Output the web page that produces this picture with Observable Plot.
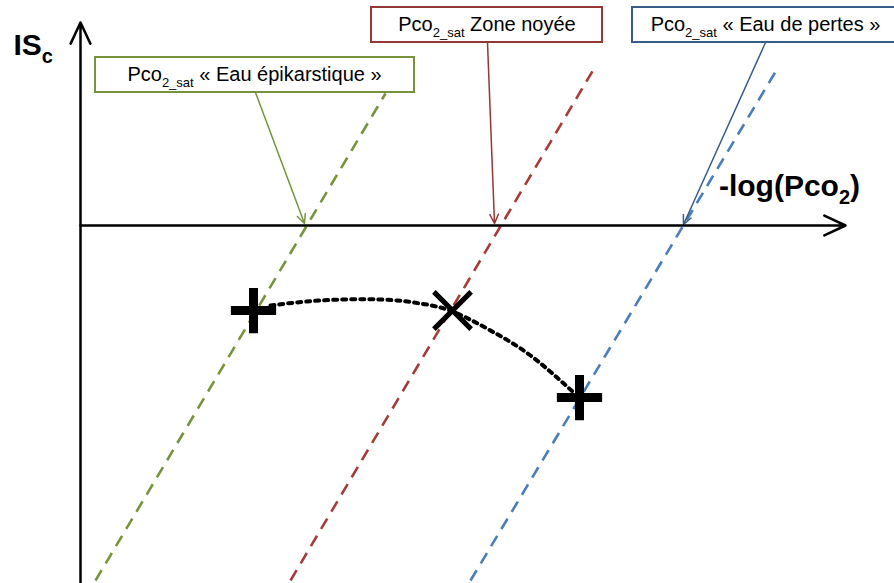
<!DOCTYPE html>
<html>
<head>
<meta charset="utf-8">
<script src="https://cdn.jsdelivr.net/npm/d3@7"></script>
<script src="https://cdn.jsdelivr.net/npm/@observablehq/plot@0.6"></script>
<style>
  html, body { margin: 0; padding: 0; background: #fff; overflow: hidden; }
</style>
</head>
<body>
<div id="chart"></div>
<script>
// ---- Data (arbitrary units: x = -log(Pco2), y = ISc) ----
const seriesNames = ["Eau épikarstique", "Zone noyée", "Eau de pertes"];
const seriesColors = ["#77933c", "#a63c3a", "#4a7ebb"];
const boxColors = ["#77933c", "#953735", "#385d8a"];

// Saturation lines (dashed) end points
const satX1 = [0.15, 2.10, 3.90];
const satY1 = [-3.55, -3.55, -3.55];
const satX2 = [3.05, 5.13, 6.97];
const satY2 = [1.32, 1.56, 1.57];

// Label boxes
const boxX1 = [0.15, 2.91, 5.52];
const boxX2 = [3.34, 5.22, 8.18];
const boxY1 = [1.33, 1.83, 1.83];
const boxY2 = [1.68, 2.18, 2.18];
const labelX = [1.74, 4.065, 6.85];
const labelY = [1.505, 2.005, 2.005];
const labelPre = ["Pco", "Pco", "Pco"];
const labelSub = ["2_sat", "2_sat", "2_sat"];
const labelPost = [" « Eau épikarstique »", " Zone noyée", " « Eau de pertes »"];

// Annotation arrows (box -> x-axis crossing)
const annX1 = [1.75, 4.07, 6.85];
const annY1 = [1.33, 1.83, 1.83];
const annX2 = [2.24, 4.14, 6.03];
const annY2 = [0.02, 0.02, 0.01];

// Axes
const axisX1 = [0, 0];
const axisY1 = [0, -3.57];
const axisX2 = [7.65, 0];
const axisY2 = [0, 2.03];

// Sample points
const pointX = [1.73, 3.72, 4.99];
const pointY = [-0.85, -0.85, -1.72];
const pointSymbol = ["plus", "times", "plus"];

// Evolution path (dotted)
const pathX = [1.90, 2.40, 3.00, 3.40, 3.72, 4.10, 4.50, 4.92];
const pathY = [-0.80, -0.75, -0.74, -0.78, -0.86, -1.05, -1.30, -1.66];

// Axis titles
const yTitle = {x: -0.67, y: 1.80, pre: "IS", sub: "c", post: ""};
const xTitle = {x: 7.09, y: 0.39, pre: "-log(Pco", sub: "2", post: ")"};

// ---- Tables built from arrays ----
const sat = seriesNames.map((n, i) => ({n, c: seriesColors[i], x1: satX1[i], y1: satY1[i], x2: satX2[i], y2: satY2[i]}));
const boxes = seriesNames.map((n, i) => ({n, c: boxColors[i], x1: boxX1[i], x2: boxX2[i], y1: boxY1[i], y2: boxY2[i],
  lx: labelX[i], ly: labelY[i], pre: labelPre[i], sub: labelSub[i], post: labelPost[i]}));
const ann = seriesNames.map((n, i) => ({n, c: boxColors[i], x1: annX1[i], y1: annY1[i], x2: annX2[i], y2: annY2[i]}));
const axes = axisX1.map((_, i) => ({x1: axisX1[i], y1: axisY1[i], x2: axisX2[i], y2: axisY2[i]}));
const pts = pointX.map((x, i) => ({x, y: pointY[i], s: pointSymbol[i]}));
const path = pathX.map((x, i) => ({x, y: pathY[i]}));
const richLabels = [...boxes.map(b => ({pre: b.pre, sub: b.sub, post: b.post, size: 20})),
                    {...yTitle, size: 30}, {...xTitle, size: 30}];

const plot = Plot.plot({
  width: 894,
  height: 583,
  margin: 0,
  x: {domain: [-0.8, 8.14], axis: null},
  y: {domain: [-3.58, 2.25], axis: null},
  style: {fontFamily: "'Liberation Sans', Arial, sans-serif", background: "#fff"},
  marks: [
    Plot.link(sat, {x1: "x1", y1: "y1", x2: "x2", y2: "y2", stroke: d => d.c, strokeWidth: 2.6, strokeDasharray: "12,8"}),
    Plot.arrow(ann, {x1: "x1", y1: "y1", x2: "x2", y2: "y2", stroke: d => d.c, strokeWidth: 1.5, headLength: 10, headAngle: 50}),
    Plot.rect(boxes, {x1: "x1", x2: "x2", y1: "y1", y2: "y2", fill: "#fff", stroke: d => d.c, strokeWidth: 2}),
    Plot.text(boxes, {x: "lx", y: "ly", text: d => d.pre + d.sub + d.post, fontSize: 20, fill: "#000"}),
    Plot.arrow(axes, {x1: "x1", y1: "y1", x2: "x2", y2: "y2", stroke: "#000", strokeWidth: 2.5, headLength: 14, headAngle: 50}),
    Plot.text([yTitle], {x: "x", y: "y", text: d => d.pre + d.sub + d.post, textAnchor: "start", fontSize: 30, fontWeight: "bold", fill: "#000"}),
    Plot.text([xTitle], {x: "x", y: "y", text: d => d.pre + d.sub + d.post, textAnchor: "middle", fontSize: 30, fontWeight: "bold", fill: "#000"}),
    Plot.line(path, {x: "x", y: "y", curve: "natural", stroke: "#000", strokeWidth: 4, strokeDasharray: "4,5"}),
    Plot.dot(pts.filter(d => d.s === "plus"), {x: "x", y: "y", symbol: "plus", r: 14.6, stroke: "#000", strokeWidth: 9, fill: "none"}),
    Plot.dot(pts.filter(d => d.s === "times"), {x: "x", y: "y", symbol: "times", r: 17, stroke: "#000", strokeWidth: 5, fill: "none"})
  ]
});

// Rebuild rich labels with subscripts (text stays real text)
d3.select(plot).selectAll("text").each(function() {
  const full = this.textContent;
  const m = richLabels.find(r => r.pre + r.sub + r.post === full);
  if (!m) return;
  const sel = d3.select(this);
  sel.text(null);
  const shift = Math.round(m.size * 0.28);
  sel.append("tspan").text(m.pre);
  sel.append("tspan").attr("font-size", Math.round(m.size * 0.65)).attr("dy", shift).text(m.sub);
  if (m.post) sel.append("tspan").attr("dy", -shift).text(m.post);
});

document.getElementById("chart").appendChild(plot);
</script>
</body>
</html>
